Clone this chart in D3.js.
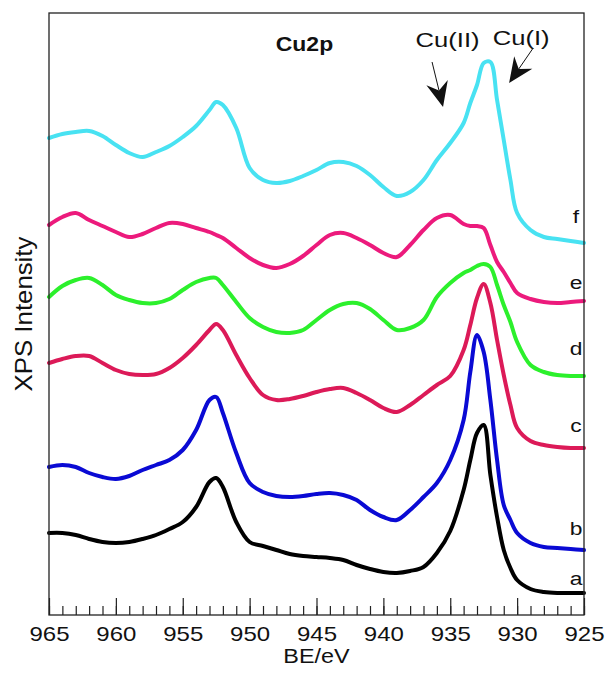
<!DOCTYPE html>
<html>
<head>
<meta charset="utf-8">
<script src="https://cdn.jsdelivr.net/npm/d3@7/dist/d3.min.js"></script>
<style>
  html, body { margin: 0; padding: 0; background: #fff; }
  svg { display: block; }
  text { font-family: "Liberation Sans", Arial, Helvetica, sans-serif; fill: #111; }
</style>
</head>
<body>
<svg id="chart" width="614" height="679"></svg>
<script>
// Binding energy grid (eV), shared by all spectra
const energy = [965,964,963,962,961,960,959,958,957,956,955,954,953,952.5,952,951,950,949,948,947,946,945,944,943,942,941,940,939,938,937,936,935,934,933.5,933,932.5,932,931.5,931,930.5,930,929,928,927,926,925];

// Stacked (offset) XPS intensities, arbitrary units
const seriesA = [82,82,80,76,73,72,73,76,80,86,93,108,133,137,128,93,73,69,65,61,59,58,57,55,50,46,43,42,44,48,62,84,125,155,182,190,140,98,65,47,35,26,23,22,22,22];
const seriesB = [148,150,148,142,138,136,139,145,150,155,165,185,215,218,202,162,132,123,119,118,119,121,122,120,115,105,98,95,105,118,132,155,195,243,280,263,215,155,110,95,82,72,68,67,66,65];
const seriesC = [252,256,259,259,252,245,241,240,241,247,257,270,285,291,285,260,237,220,215,216,219,223,226,227,222,215,207,203,210,220,230,239,265,290,317,331,312,275,240,210,187,174,170,168,167,167];
const seriesD = [318,329,335,337,330,320,315,312,312,316,325,333,337,337,330,313,297,288,283,282,285,295,305,311,312,306,295,285,287,295,318,332,342,345,349,351,348,330,310,293,273,250,243,240,239,239];
const seriesE = [390,398,402,395,389,383,378,381,387,392,391,387,383,380,377,367,357,350,347,351,359,370,380,382,377,370,362,358,370,385,397,400,391,389,389,387,370,353,343,332,322,316,313,312,313,314];
const seriesF = [477,481,483,484,479,470,462,458,463,469,478,489,505,513,510,487,447,435,432,434,439,445,452,453,449,440,428,419,423,435,455,472,492,512,530,552,553,515,475,435,402,385,378,376,374,372];

const seriesNames = ["a","b","c","d","e","f"];
const seriesColors = ["#000000","#0a0ad4","#dc1a58","#2cf02c","#ec1a7c","#48e2f2"];
const seriesList = [seriesA, seriesB, seriesC, seriesD, seriesE, seriesF];

const xTicksMajor = [965,960,955,950,945,940,935,930,925];

const svg = d3.select("#chart");
const frame = {left: 49, right: 584, top: 13, bottom: 615};
const x = d3.scaleLinear().domain([965, 925]).range([frame.left, frame.right]);
const y = d3.scaleLinear().domain([0, 602]).range([frame.bottom, frame.top]);
const sx = 1.2; // horizontal stretch of the original lettering

// spectra
const line = d3.line()
  .x(d => x(d[0]))
  .y(d => y(d[1]))
  .curve(d3.curveCatmullRom.alpha(0.5));

const g = svg.append("g");
seriesList.forEach((vals, i) => {
  const pts = energy.map((e, k) => [e, vals[k]]);
  g.append("path")
    .attr("d", line(pts))
    .attr("fill", "none")
    .attr("stroke", seriesColors[i])
    .attr("stroke-width", 4)
    .attr("stroke-linejoin", "round")
    .attr("stroke-linecap", "round");
});

// curve labels at right
const labelY = {a: 30, b: 80, c: 183, d: 260, e: 326, f: 392};
seriesNames.forEach(n => {
  svg.append("text")
    .attr("transform", `translate(${x(925.6)},${y(labelY[n])}) scale(${sx},1)`)
    .attr("text-anchor", "middle")
    .attr("font-size", 19)
    .text(n);
});

// frame
svg.append("rect")
  .attr("x", frame.left).attr("y", frame.top)
  .attr("width", frame.right - frame.left).attr("height", frame.bottom - frame.top)
  .attr("fill", "none").attr("stroke", "#222").attr("stroke-width", 1.3);

// bottom axis: minor ticks
svg.append("g")
  .attr("transform", `translate(0,${frame.bottom})`)
  .call(d3.axisBottom(x).tickValues(d3.range(965, 924, -1)).tickSize(-9).tickFormat(""))
  .call(a => a.select(".domain").remove())
  .call(a => a.selectAll("line").attr("stroke", "#222").attr("stroke-width", 1.2));

// bottom axis: major ticks + labels
svg.append("g")
  .attr("transform", `translate(0,${frame.bottom})`)
  .call(d3.axisBottom(x).tickValues(xTicksMajor).tickSize(-17).tickPadding(12).tickFormat(d3.format("d")))
  .call(a => a.select(".domain").remove())
  .call(a => a.selectAll("line").attr("stroke", "#222").attr("stroke-width", 1.2))
  .call(a => a.selectAll("text")
      .attr("font-size", 20)
      .attr("font-family", "Liberation Sans, Arial, sans-serif")
      .attr("fill", "#111")
      .attr("transform", `scale(${sx},1)`));

// axis titles
svg.append("text")
  .attr("transform", `translate(${x(945)},663) scale(${sx},1)`)
  .attr("text-anchor", "middle")
  .attr("font-size", 19.5)
  .text("BE/eV");

svg.append("text")
  .attr("transform", `translate(32,${(frame.top + frame.bottom) / 2}) rotate(-90) scale(1.2,1.12)`)
  .attr("text-anchor", "middle")
  .attr("font-size", 21.5)
  .text("XPS Intensity");

// annotations
svg.append("text")
  .attr("transform", `translate(${x(945.9)},51) scale(1.12,1)`)
  .attr("text-anchor", "middle")
  .attr("font-size", 20.5)
  .attr("font-weight", "bold")
  .text("Cu2p");

svg.append("text")
  .attr("transform", `translate(${x(935.2)},47) scale(1.28,1)`)
  .attr("text-anchor", "middle")
  .attr("font-size", 20)
  .text("Cu(II)");

svg.append("text")
  .attr("transform", `translate(${x(929.7)},45) scale(1.28,1)`)
  .attr("text-anchor", "middle")
  .attr("font-size", 20)
  .text("Cu(I)");

// arrows: [tailE, tailV, tipE, tipV]
const arrows = [[936.36, 553, 935.54, 508], [928.8, 567, 930.6, 532]];
arrows.forEach(([e0, v0, e1, v1]) => {
  const x0 = x(e0), y0 = y(v0), x1 = x(e1), y1 = y(v1);
  const dx = x1 - x0, dy = y1 - y0, L = Math.hypot(dx, dy);
  const ux = dx / L, uy = dy / L, px = -uy, py = ux;
  const headLen = 25, halfW = 11, notch = 17;
  const bx = x1 - ux * headLen, by = y1 - uy * headLen;
  const nx = x1 - ux * notch, ny = y1 - uy * notch;
  svg.append("line")
    .attr("x1", x0).attr("y1", y0).attr("x2", nx).attr("y2", ny)
    .attr("stroke", "#111").attr("stroke-width", 1);
  svg.append("path")
    .attr("d", `M${x1},${y1} L${bx + px * halfW},${by + py * halfW} L${nx},${ny} L${bx - px * halfW},${by - py * halfW} Z`)
    .attr("fill", "#111");
});
</script>
</body>
</html>
